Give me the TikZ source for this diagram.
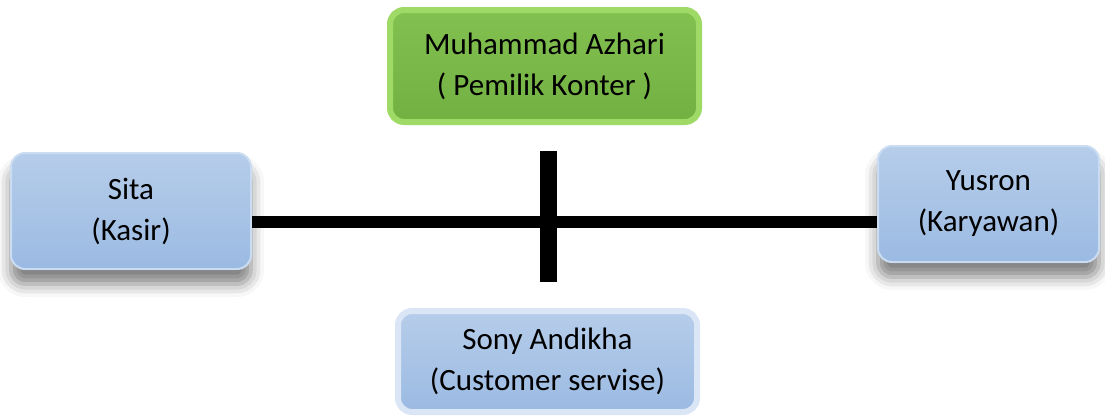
\documentclass[tikz,border=0pt]{standalone}
\usepackage{fontspec}
\setmainfont{Carlito}
\usetikzlibrary{positioning, calc, shadows.blur}
\definecolor{bluetop}{HTML}{B6CDEA}
\definecolor{bluebot}{HTML}{9BBAE2}
\definecolor{blueedge}{HTML}{CADCF1}
\definecolor{greentop}{HTML}{82C150}
\definecolor{greenbot}{HTML}{72B042}
\definecolor{greenedge}{HTML}{A0DA66}
\newcommand{\boxfont}{\fontsize{31}{41}\selectfont}

\tikzset{
  staffbox/.style={rounded corners=14pt, top color=bluetop, bottom color=bluebot,
        draw=blueedge, line width=2pt, align=center, text=black, font=\boxfont,
        inner sep=0pt},
  shadowed/.style={blur shadow={shadow xshift=0pt, shadow yshift=-15pt,
        shadow blur radius=13pt, shadow opacity=50}},
  ownerbox/.style={staffbox, top color=greentop, bottom color=greenbot,
        draw=greenedge, line width=6pt},
  ringbox/.style={staffbox, draw=blueedge!70, line width=6pt},
  link/.style={line width=#1, black}
}

\begin{document}
\begin{tikzpicture}[x=1pt, y=-1pt]
  \useasboundingbox (0,0) rectangle (1105,416);

  % owner on top
  \node[ownerbox, minimum width=309pt, minimum height=112pt] (owner) at (544.5,66)
    {Muhammad Azhari\\( Pemilik Konter )};

  % staff
  \node[staffbox, shadowed, minimum width=240pt, minimum height=116pt] (kasir) at (131,211)
    {Sita\\(Kasir)};
  \node[staffbox, shadowed, minimum width=221pt, minimum height=116pt] (karyawan) at (988.5,204)
    {Yusron\\(Karyawan)};
  \node[ringbox, minimum width=299pt, minimum height=101pt] (cs) at (547.5,361.5)
    {Sony Andikha\\(Customer servise)};

  % lines
  \coordinate (hub) at (548.5,222);
  \coordinate (vtop) at (548.5,151);
  \coordinate (vbot) at (548.5,282);
  \draw[link=12pt] (kasir.east |- hub) -- (karyawan.west |- hub);
  \draw[link=17pt] (vtop) -- (vbot);
\end{tikzpicture}
\end{document}
